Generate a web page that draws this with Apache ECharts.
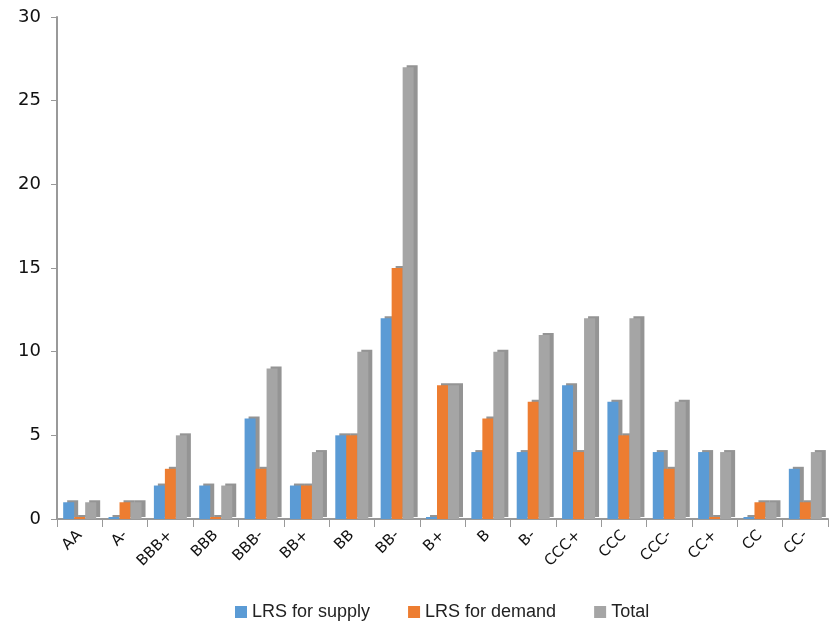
<!DOCTYPE html>
<html>
<head>
<meta charset="utf-8">
<script src="https://cdn.jsdelivr.net/npm/echarts@6/dist/echarts.min.js"></script>
<style>
  html, body { margin: 0; padding: 0; background: #fff; }
  #chart { width: 832px; height: 631px; }
</style>
</head>
<body>
<div id="chart"></div>
<script>
var ratings = ['AA', 'A-', 'BBB+', 'BBB', 'BBB-', 'BB+', 'BB', 'BB-', 'B+', 'B', 'B-', 'CCC+', 'CCC', 'CCC-', 'CC+', 'CC', 'CC-'];
var supply = [1, 0, 2, 2, 6, 2, 5, 12, 0, 4, 4, 8, 7, 4, 4, 0, 3];
var demand = [0, 1, 3, 0, 3, 2, 5, 15, 8, 6, 7, 4, 5, 3, 0, 1, 1];
var total  = [1, 1, 5, 2, 9, 4, 10, 27, 8, 10, 11, 12, 12, 7, 4, 1, 4];

var myChart = echarts.init(document.getElementById('chart'));

function barSeries(name, data, color) {
  return {
    name: name,
    type: 'bar',
    data: data,
    barWidth: 11,
    barGap: '0%',
    barMinHeight: 2,
    itemStyle: {
      color: color,
      shadowColor: 'rgba(60,60,60,0.55)',
      shadowBlur: 0,
      shadowOffsetX: 4,
      shadowOffsetY: -2
    }
  };
}

var option = {
  animation: false,
  textStyle: { fontFamily: 'DejaVu Sans' },
  grid: { left: 57, right: 4, top: 17, bottom: 112 },
  legend: {
    bottom: 5,
    left: 230,
    itemWidth: 12,
    itemHeight: 12,
    itemGap: 38,
    icon: 'rect',
    textStyle: { fontSize: 18, color: '#222', fontFamily: 'Liberation Sans' },
    data: ['LRS for supply', 'LRS for demand', 'Total']
  },
  xAxis: {
    type: 'category',
    data: ratings,
    axisLine: { lineStyle: { color: '#999', width: 2 } },
    axisTick: { show: true, length: 8, lineStyle: { color: '#999' } },
    axisLabel: { rotate: 45, fontSize: 15, color: '#111', margin: 14, interval: 0 }
  },
  yAxis: {
    type: 'value',
    min: 0,
    max: 30,
    interval: 5,
    splitLine: { show: false },
    axisLine: { show: true, lineStyle: { color: '#999', width: 2 } },
    axisTick: { show: true, length: 6, lineStyle: { color: '#999' } },
    axisLabel: { fontSize: 18, color: '#111', margin: 16 }
  },
  series: [
    barSeries('LRS for supply', supply, '#5B9BD5'),
    barSeries('LRS for demand', demand, '#ED7D31'),
    barSeries('Total', total, '#A5A5A5')
  ]
};

myChart.setOption(option);
</script>
</body>
</html>
